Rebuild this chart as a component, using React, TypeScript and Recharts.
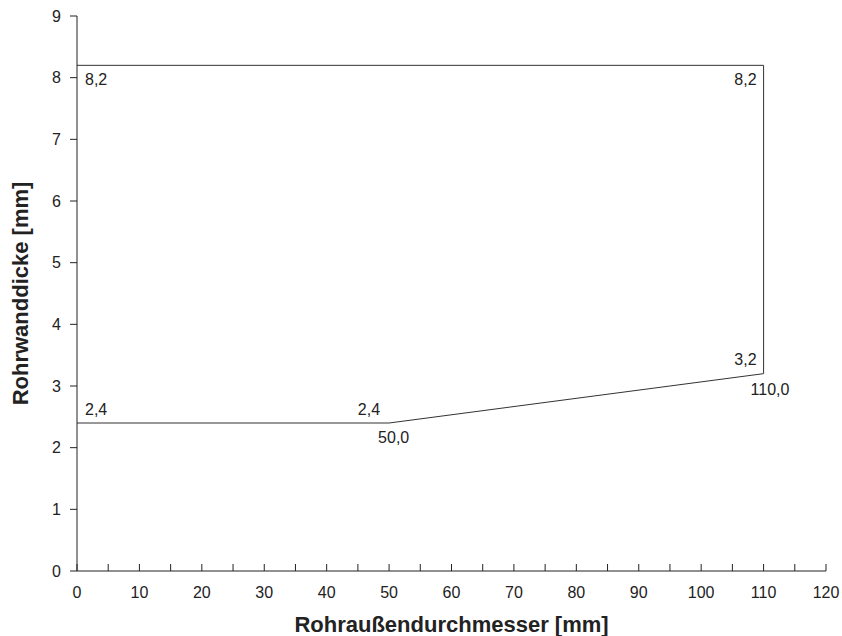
import { LineChart, Line, XAxis, YAxis, Label } from 'recharts';

// Outline of the allowed range (wall thickness over outer diameter)
const outerDiameter = [0, 50, 110, 110, 0];
const wallThickness = [2.4, 2.4, 3.2, 8.2, 8.2];
const valueLabels = ['2,4', '2,4', '3,2', '8,2', '8,2'];
const diameterLabels = ['', '50,0', '110,0', '', ''];

const xTicks = [0, 5, 10, 15, 20, 25, 30, 35, 40, 45, 50, 55, 60, 65, 70, 75, 80, 85, 90, 95, 100, 105, 110, 115, 120];
const yTicks = [0, 1, 2, 3, 4, 5, 6, 7, 8, 9];

const font = '"Liberation Sans", Arial, sans-serif';
const ink = '#222';

// where the two labels of each corner sit relative to the corner
const labelPlacement = [
  { top: { dx: 8, dy: -8, anchor: 'start' }, bottom: null },
  { top: { dx: -9, dy: -8, anchor: 'end' }, bottom: { dx: -11, dy: 20, anchor: 'start' } },
  { top: { dx: -7, dy: -9, anchor: 'end' }, bottom: { dx: -13, dy: 21, anchor: 'start' } },
  { top: { dx: -7, dy: 20, anchor: 'end' }, bottom: null },
  { top: { dx: 8, dy: 20, anchor: 'start' }, bottom: null },
];

const data = outerDiameter.map((x, i) => ({
  x,
  y: wallThickness[i],
  valueLabel: valueLabels[i],
  diameterLabel: diameterLabels[i],
}));

const CornerLabel = (props: any) => {
  const { cx, cy, index, payload } = props;
  const place = labelPlacement[index];
  if (!place) return <g key={`lbl-${index}`} />;
  return (
    <g key={`lbl-${index}`}>
      <text x={cx + place.top.dx} y={cy + place.top.dy} textAnchor={place.top.anchor} fontSize={16} fontFamily={font} fill={ink}>
        {payload.valueLabel}
      </text>
      {place.bottom && payload.diameterLabel && (
        <text x={cx + place.bottom.dx} y={cy + place.bottom.dy} textAnchor={place.bottom.anchor} fontSize={16} fontFamily={font} fill={ink}>
          {payload.diameterLabel}
        </text>
      )}
    </g>
  );
};

// x ticks point up into the plot, labels only on the tens
const XTick = (props: any) => {
  const { x, y, payload } = props;
  const v = payload.value;
  return (
    <g>
      <line x1={x} y1={y} x2={x} y2={y - 7} stroke={ink} strokeWidth={1} />
      {v % 10 === 0 && (
        <text x={x} y={y + 27} textAnchor="middle" fontSize={16} fontFamily={font} fill={ink}>
          {v}
        </text>
      )}
    </g>
  );
};

const XTitle = (props: any) => {
  const { viewBox } = props;
  return (
    <text x={viewBox.x + viewBox.width / 2} y={632} textAnchor="middle" fontSize={22} fontWeight="bold" fontFamily={font} fill={ink}>
      Rohraußendurchmesser [mm]
    </text>
  );
};

const YTitle = (props: any) => {
  const { viewBox } = props;
  const cy = viewBox.y + viewBox.height / 2;
  return (
    <text x={28} y={cy} transform={`rotate(-90, 28, ${cy})`} textAnchor="middle" fontSize={22} fontWeight="bold" fontFamily={font} fill={ink}>
      Rohrwanddicke [mm]
    </text>
  );
};

export default function App() {
  return (
    <div style={{ position: 'absolute', left: 0, top: 0, background: '#fff' }}>
      <LineChart width={842} height={636} data={data} margin={{ top: 16, right: 16, bottom: 0, left: 20 }}>
        <XAxis
          type="number"
          dataKey="x"
          domain={[0, 120]}
          ticks={xTicks}
          interval={0}
          allowDataOverflow
          tickSize={0}
          tickMargin={0}
          tick={<XTick />}
          stroke={ink}
          height={65}
        >
          <Label content={<XTitle />} />
        </XAxis>
        <YAxis
          type="number"
          domain={[0, 9]}
          ticks={yTicks}
          interval={0}
          width={57}
          tickSize={7}
          tickMargin={9}
          stroke={ink}
          tick={{ fontSize: 16, fontFamily: font, fill: ink }}
        >
          <Label content={<YTitle />} />
        </YAxis>
        <Line
          type="linear"
          dataKey="y"
          stroke="#333"
          strokeWidth={1}
          dot={CornerLabel}
          activeDot={false}
          isAnimationActive={false}
        />
      </LineChart>
    </div>
  );
}
